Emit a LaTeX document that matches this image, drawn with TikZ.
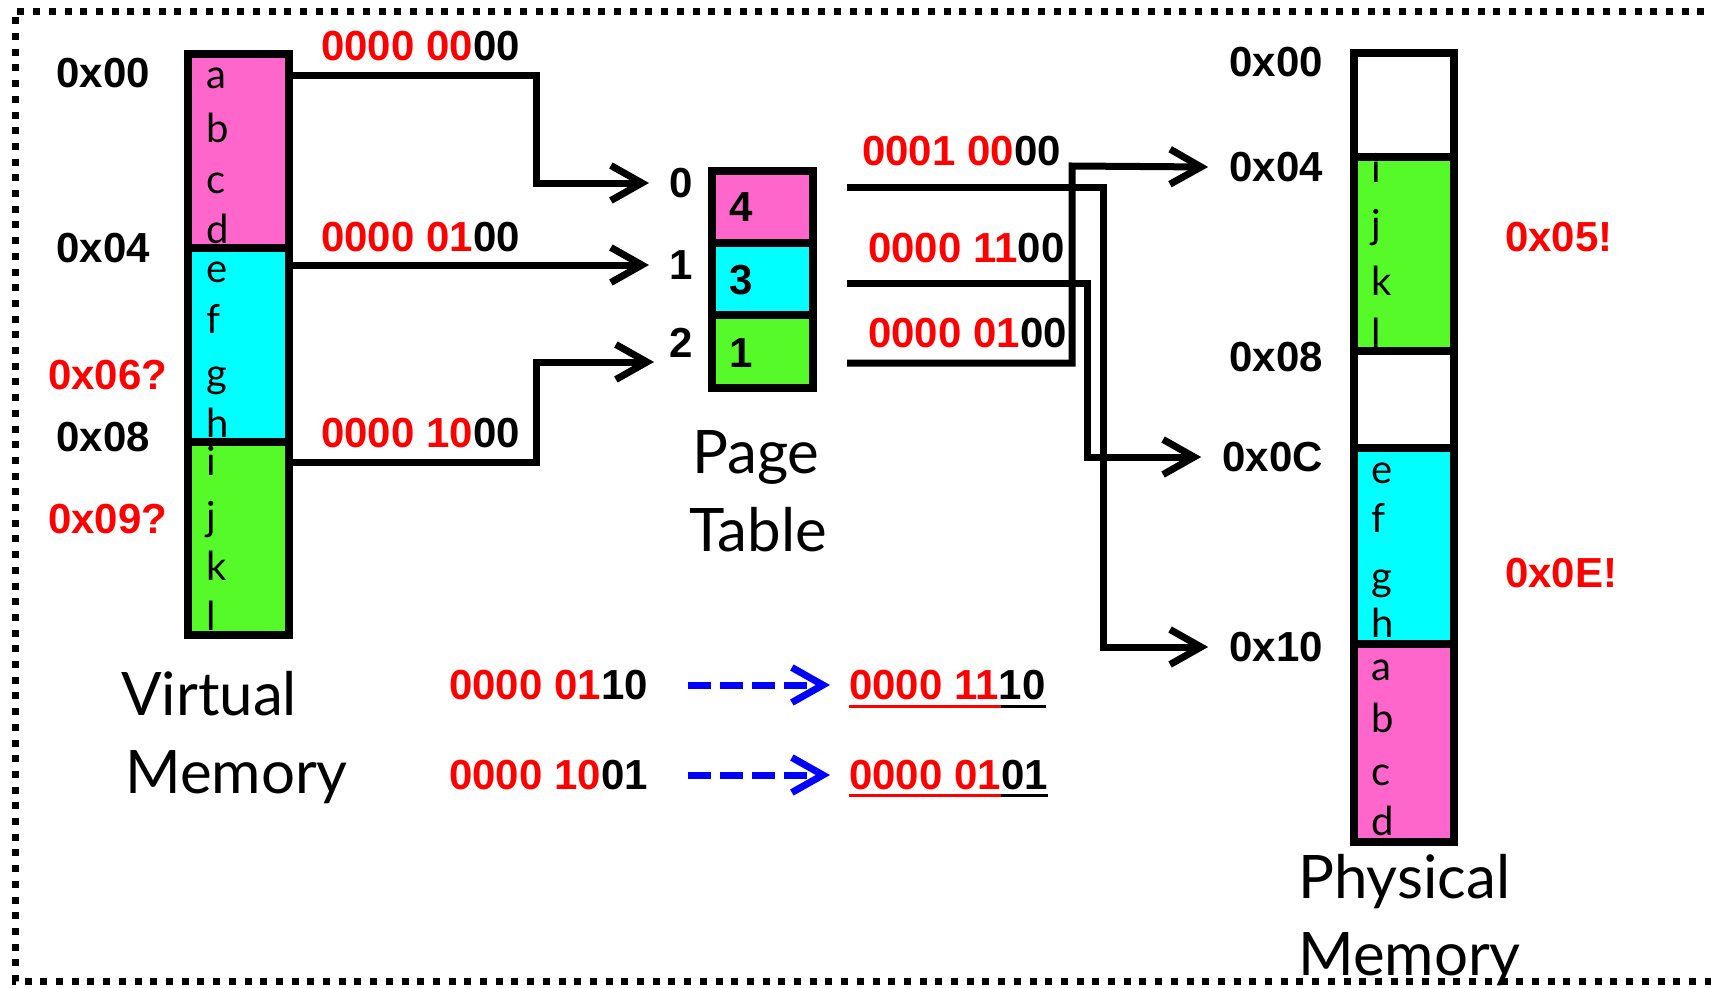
\documentclass[tikz,border=0pt]{standalone}
\usepackage{fontspec}
\setmainfont{Lato}
\newfontfamily\helv{Liberation Sans}
\usetikzlibrary{arrows.meta}
\definecolor{pagepink}{RGB}{255,102,204}
\definecolor{pagecyan}{RGB}{0,255,255}
\definecolor{pagegreen}{RGB}{85,250,40}

\begin{document}
\begin{tikzpicture}[x=1pt, y=-1pt,
    cell/.style={draw, line width=7.5pt, inner sep=0pt, outer sep=0pt, anchor=north west},
    addr/.style={font=\helv\bfseries\fontsize{42}{48}\selectfont, inner sep=0pt},
    letter/.style={font=\fontsize{40}{48}\selectfont, inner sep=0pt, anchor=base west},
    caption/.style={font=\fontsize{60}{72}\selectfont, inner sep=0pt, anchor=base west},
    link/.style={line width=7pt, -{Straight Barb[length=31pt,width=35pt]}},
    guess/.style={blue, line width=7pt, dash pattern=on 23pt off 9pt, -{Straight Barb[length=31pt,width=35pt]}},
    uline/.style={line width=2.5pt}]
    \useasboundingbox (0,0) rectangle (1711,988);

    \draw[line width=7pt, dash pattern=on 7pt off 8.7pt] (1720,11) -- (15,11) -- (15,981) -- (1720,981);

    % virtual memory
    \node[cell, fill=pagepink, minimum width=101pt, minimum height=194pt] (vmP) at (188,54) {};
    \node[cell, fill=pagecyan, minimum width=101pt, minimum height=194pt] (vmQ) at (188,248) {};
    \node[cell, fill=pagegreen, minimum width=101pt, minimum height=193pt] (vmR) at (188,442) {};
    \foreach \ch/\yb in {a/88,b/142,c/193,d/243,e/282,f/333,g/387,h/437,i/475,j/530,k/580,l/630}
        \node[letter] (v\ch) at (206,\yb) {\ch};

    \node[addr, anchor=east] (va00) at (150,73) {0x00};
    \node[addr, anchor=east] (va04) at (150,248) {0x04};
    \node[addr, anchor=west, red] (va06) at (48,375) {0x06?};
    \node[addr, anchor=east] (va08) at (150,437) {0x08};
    \node[addr, anchor=west, red] (va09) at (48,519) {0x09?};

    \node[caption] (vcap1) at (121,715) {Virtual};
    \node[caption] (vcap2) at (125,793) {Memory};

    % page table
    \node[cell, fill=pagepink, minimum width=101pt, minimum height=72pt] (ptA) at (712,171) {};
    \node[cell, fill=pagecyan, minimum width=101pt, minimum height=72pt] (ptB) at (712,243) {};
    \node[cell, fill=pagegreen, minimum width=101pt, minimum height=73pt] (ptC) at (712,315) {};
    \node[addr, anchor=west] (frame4) at (729,207) {4};
    \node[addr, anchor=west] (frame3) at (729,280) {3};
    \node[addr, anchor=west] (frame1) at (729,353) {1};

    \node[addr, anchor=west] (idx0) at (669,183) {0};
    \node[addr, anchor=west] (idx1) at (669,265) {1};
    \node[addr, anchor=west] (idx2) at (669,343) {2};

    \node[caption] (pcap1) at (692,473) {Page};
    \node[caption] (pcap2) at (689,551) {Table};

    % physical memory
    \node[cell, fill=white, minimum width=100pt, minimum height=104pt] (pmA) at (1354,53) {};
    \node[cell, fill=pagegreen, minimum width=100pt, minimum height=194pt] (pmB) at (1354,157) {};
    \node[cell, fill=white, minimum width=100pt, minimum height=97pt] (pmC) at (1354,351) {};
    \node[cell, fill=pagecyan, minimum width=100pt, minimum height=196pt] (pmD) at (1354,448) {};
    \node[cell, fill=pagepink, minimum width=100pt, minimum height=198pt] (pmE) at (1354,644) {};
    \foreach \ch/\yb in {i/182,j/238,k/295,l/347,e/483,f/532,g/590,h/637,a/680,b/732,c/785,d/835}
        \node[letter] (p\ch) at (1371,\yb) {\ch};

    \node[addr, anchor=east] (pa00) at (1323,62) {0x00};
    \node[addr, anchor=east] (pa04) at (1323,167) {0x04};
    \node[addr, anchor=east] (pa08) at (1323,357) {0x08};
    \node[addr, anchor=east] (pa0C) at (1323,457) {0x0C};
    \node[addr, anchor=east] (pa10) at (1323,647) {0x10};
    \node[addr, anchor=west, red] (pa05) at (1505,237) {0x05!};
    \node[addr, anchor=west, red] (pa0E) at (1505,573) {0x0E!};

    \node[caption] (mcap1) at (1298,898) {Physical};
    \node[caption] (mcap2) at (1298,975) {Memory};

    % addresses on the lines
    \node[addr, anchor=west] (lblA) at (321,46) {\textcolor{red}{0000 00}00};
    \node[addr, anchor=west] (lblB) at (321,237) {\textcolor{red}{0000 01}00};
    \node[addr, anchor=west] (lblC) at (321,433) {\textcolor{red}{0000 10}00};
    \node[addr, anchor=west] (lblD) at (862,151) {\textcolor{red}{0001 00}00};
    \node[addr, anchor=west] (lblE) at (868,248) {\textcolor{red}{0000 11}00};
    \node[addr, anchor=west] (lblF) at (868,333) {\textcolor{red}{0000 01}00};

    \draw[link] (vmP.east |- 0,75) -| (536,183) -- ([xshift=-20pt]idx0.west);
    \draw[link] (vmQ.east |- 0,265) -- ([xshift=-20pt]idx1.west);
    \draw[link] (vmR.east |- 0,462) -| (536,362) -- ([shift={(-15pt,-19pt)}]idx2.west);

    \draw[link] ([shift={(34pt,20pt)}]ptA.east) -| (1103,647) -- ([xshift=-21pt]pa10.west);
    \draw[link] ([shift={(34pt,-4pt)}]ptB.east) -| (1087,457) -- ([xshift=-21pt]pa0C.west);
    \draw[link] ([shift={(34pt,-11.5pt)}]ptC.east) -| (1072,166) -- ([xshift=-21pt]pa04.west);

    % translations
    \node[addr, anchor=west] (src1) at (449,685) {\textcolor{red}{0000 01}10};
    \node[addr, anchor=west] (src2) at (449,775) {\textcolor{red}{0000 10}01};
    \node[addr, anchor=west] (res1) at (849,685) {\textcolor{red}{0000 11}10};
    \node[addr, anchor=west] (res2) at (849,775) {\textcolor{red}{0000 01}01};

    \draw[guess] ([xshift=40pt]src1.east) -- ([xshift=-19pt]res1.west);
    \draw[guess] ([xshift=40pt]src2.east) -- ([xshift=-19pt]res2.west);

    \draw[uline, red] ([yshift=-7pt]res1.base west) -- ++(152,0);
    \draw[uline] ([yshift=-7pt]res1.base west) ++(152,0) -- ([yshift=-7pt]res1.base east);
    \draw[uline, red] ([yshift=-6pt]res2.base west) -- ++(152,0);
    \draw[uline] ([yshift=-6pt]res2.base west) ++(152,0) -- ([yshift=-6pt]res2.base east);
\end{tikzpicture}
\end{document}
